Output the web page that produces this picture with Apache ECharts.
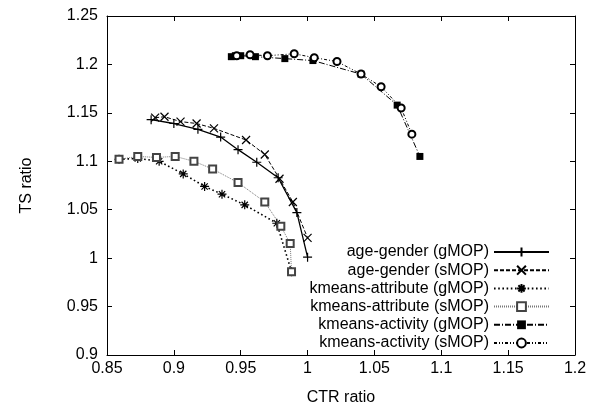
<!DOCTYPE html>
<html>
<head>
<meta charset="utf-8">
<script src="https://cdn.jsdelivr.net/npm/echarts@6/dist/echarts.min.js"></script>
<style>
  html, body { margin: 0; padding: 0; background: #fff; }
  #main { width: 595px; height: 411px; }
</style>
</head>
<body>
<div id="main"></div>
<script>
var names = ['age-gender (gMOP)', 'age-gender (sMOP)', 'kmeans-attribute (gMOP)',
  'kmeans-attribute (sMOP)', 'kmeans-activity (gMOP)', 'kmeans-activity (sMOP)'];

// [CTR ratio, TS ratio]
var ageGenderG = [[0.883, 1.143], [0.900, 1.139], [0.918, 1.133], [0.935, 1.125], [0.948, 1.112],
  [0.962, 1.099], [0.978, 1.083], [0.992, 1.047], [1.000, 1.001]];
var ageGenderS = [[0.886, 1.145], [0.893, 1.146], [0.905, 1.141], [0.917, 1.139], [0.930, 1.134],
  [0.954, 1.122], [0.968, 1.107], [0.979, 1.082], [0.989, 1.058], [1.000, 1.021]];
var attrG = [[0.859, 1.102], [0.873, 1.103], [0.889, 1.100], [0.907, 1.087], [0.923, 1.074],
  [0.936, 1.066], [0.953, 1.055], [0.977, 1.036], [0.988, 0.986]];
var attrS = [[0.859, 1.102], [0.873, 1.105], [0.887, 1.104], [0.901, 1.105], [0.915, 1.100],
  [0.929, 1.092], [0.948, 1.078], [0.968, 1.058], [0.980, 1.033], [0.987, 1.015], [0.988, 0.986]];
var activityG = [[0.943, 1.208], [0.946, 1.209], [0.950, 1.209], [0.961, 1.208], [0.983, 1.206],
  [1.004, 1.204], [1.040, 1.190], [1.067, 1.158], [1.084, 1.105]];
var activityS = [[0.947, 1.209], [0.957, 1.210], [0.970, 1.209], [0.990, 1.211], [1.005, 1.207],
  [1.022, 1.203], [1.040, 1.190], [1.055, 1.177], [1.070, 1.155], [1.078, 1.128]];

var plusSym = 'path://M5,0L5,10M0,5L10,5';
var crossSym = 'path://M0,0L10,10M10,0L0,10';
var starSym = 'path://M5,0L5,10M0,5L10,5M1.5,1.5L8.5,8.5M8.5,1.5L1.5,8.5';

var font = 'Liberation Sans, Arial, sans-serif';

function mk(name, data, symbol, size, line, item) {
  return {
    name: name,
    type: 'line',
    data: data,
    symbol: symbol,
    symbolSize: size,
    showAllSymbol: true,
    lineStyle: line,
    itemStyle: item,
    emphasis: { disabled: true }
  };
}

var strokeItem = { color: '#000', borderColor: '#000', borderWidth: 1.2 };

var chart = echarts.init(document.getElementById('main'));
chart.setOption({
  animation: false,
  backgroundColor: '#fff',
  grid: { left: 107, right: 20, top: 16, bottom: 55 },
  legend: {
    orient: 'vertical',
    align: 'right',
    right: 40,
    bottom: 55,
    itemWidth: 55,
    itemHeight: 11,
    itemGap: 2.2,
    textStyle: { fontFamily: font, fontSize: 16, color: '#000' },
    data: names
  },
  xAxis: [{
    type: 'value', min: 0.85, max: 1.2, interval: 0.05,
    name: 'CTR ratio', nameLocation: 'middle', nameGap: 35,
    nameTextStyle: { fontFamily: font, fontSize: 16, color: '#000' },
    axisLine: { lineStyle: { color: '#000', width: 1 } },
    axisTick: { inside: true, length: 5, lineStyle: { color: '#000' } },
    axisLabel: { fontFamily: font, fontSize: 16, color: '#000', margin: 6 },
    splitLine: { show: false }
  }, {
    type: 'value', min: 0.85, max: 1.2, interval: 0.05, position: 'top',
    axisLine: { lineStyle: { color: '#000', width: 1 } },
    axisTick: { inside: true, length: 5, lineStyle: { color: '#000' } },
    axisLabel: { show: false },
    splitLine: { show: false }
  }],
  yAxis: [{
    type: 'value', min: 0.9, max: 1.25, interval: 0.05,
    name: 'TS ratio', nameLocation: 'middle', nameGap: 72,
    nameTextStyle: { fontFamily: font, fontSize: 16, color: '#000' },
    axisLine: { show: true, lineStyle: { color: '#000', width: 1 } },
    axisTick: { show: true, inside: true, length: 5, lineStyle: { color: '#000' } },
    axisLabel: { fontFamily: font, fontSize: 16, color: '#000', margin: 9 },
    splitLine: { show: false }
  }, {
    type: 'value', min: 0.9, max: 1.25, interval: 0.05, position: 'right',
    axisLine: { show: true, lineStyle: { color: '#000', width: 1 } },
    axisTick: { show: true, inside: true, length: 5, lineStyle: { color: '#000' } },
    axisLabel: { show: false },
    splitLine: { show: false }
  }],
  series: [
    mk(names[0], ageGenderG, plusSym, 9, { color: '#000', width: 1.3, type: 'solid' }, strokeItem),
    mk(names[1], ageGenderS, crossSym, 8, { color: '#000', width: 1, type: [4, 2] }, strokeItem),
    mk(names[2], attrG, starSym, 9, { color: '#000', width: 1.6, type: [1.6, 2.6] }, strokeItem),
    mk(names[3], attrS, 'emptyRect', 7, { color: '#777', width: 1, type: [1, 1] },
      { color: '#444', borderWidth: 1 }),
    mk(names[4], activityG, 'rect', 7, { color: '#000', width: 1, type: [6, 2, 1, 2] },
      { color: '#000' }),
    mk(names[5], activityS, 'emptyCircle', 7, { color: '#000', width: 1, type: [3, 2, 1, 2, 1, 2] },
      { color: '#000', borderWidth: 1 })
  ]
});
</script>
</body>
</html>
